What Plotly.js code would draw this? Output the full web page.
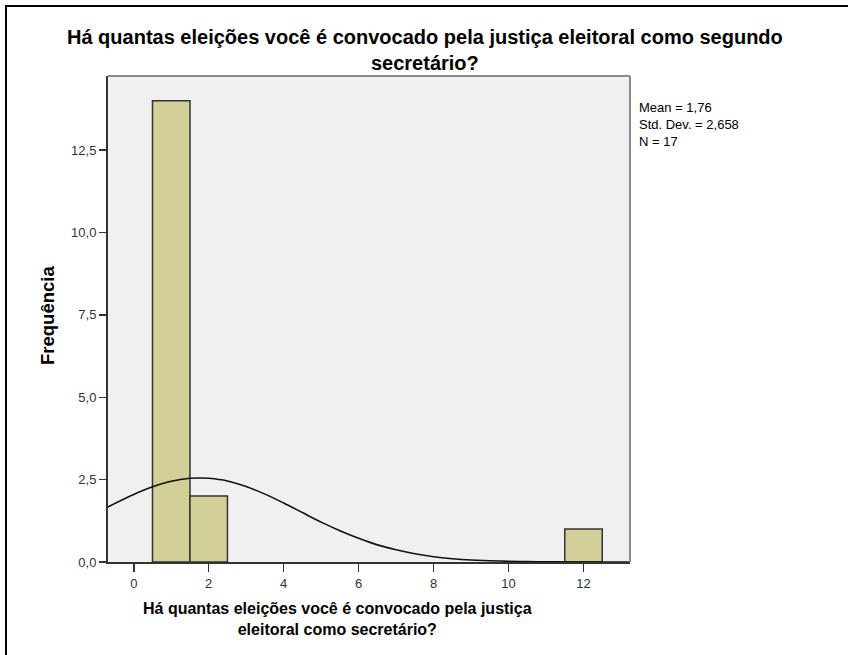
<!DOCTYPE html>
<html>
<head>
<meta charset="utf-8">
<script src="https://cdn.plot.ly/plotly-3.0.1.min.js"></script>
<style>
  html, body { margin: 0; padding: 0; background: #ffffff; }
  #chart { position: absolute; left: 0; top: 0; width: 848px; height: 655px; }
  #frame { position: absolute; left: 5px; top: 5px; width: 860px; height: 700px;
           border-left: 2px solid #000; border-top: 2px solid #000; pointer-events: none; }
</style>
</head>
<body>
<div id="chart"></div>
<div id="frame"></div>
<script>
// Histogram bins (bin centres) and frequencies
const binCenters = [1, 2, 12];
const frequencies = [14, 2, 1];

// Normal curve (x, frequency)
const curveX = [-0.69, -0.5, 0, 0.5, 1, 1.5, 1.76, 2, 2.5, 3, 3.5, 4, 4.5, 5, 5.5, 6, 6.5, 7, 7.5, 8, 8.5, 9, 9.5, 10, 10.5, 11, 11.5, 12, 12.5, 13, 13.24];
const curveY = [1.67, 1.78, 2.05, 2.28, 2.45, 2.54, 2.55, 2.54, 2.46, 2.29, 2.06, 1.79, 1.50, 1.21, 0.95, 0.72, 0.52, 0.37, 0.25, 0.16, 0.10, 0.06, 0.04, 0.02, 0.01, 0.006, 0.003, 0.0015, 0.0007, 0.0003, 0.0002];

const xTicks = [0, 2, 4, 6, 8, 10, 12];
const yTicks = [0, 2.5, 5, 7.5, 10, 12.5];

const titleLines = ['Há quantas eleições você é convocado pela justiça eleitoral como segundo', 'secretário?'];
const xTitleLines = ['Há quantas eleições você é convocado pela justiça', 'eleitoral como secretário?'];
const yTitleText = 'Frequência';
const statsLines = ['Mean = 1,76', 'Std. Dev. = 2,658', 'N = 17'];

const FONT = 'Liberation Sans, Arial, sans-serif';

const traces = [
  {
    type: 'bar',
    x: binCenters,
    y: frequencies,
    width: 1,
    marker: { color: '#d2cf98', line: { color: '#333333', width: 1.5 } },
    hoverinfo: 'x+y'
  },
  {
    type: 'scatter',
    mode: 'lines',
    x: curveX,
    y: curveY,
    line: { color: '#111111', width: 1.6, shape: 'spline' },
    hoverinfo: 'skip'
  }
];

const plotL = 108, plotR = 630, plotT = 76, plotB = 562;
const W = 848, H = 655;
const pw = plotR - plotL, ph = plotB - plotT;
const px = v => (v - plotL) / pw;
const py = v => (plotB - v) / ph;

const annotations = [];
annotations.push({
  text: titleLines.join('<br>'), xref: 'paper', yref: 'paper', x: px(425), y: py(50),
  xanchor: 'center', yanchor: 'middle', showarrow: false, align: 'center',
  font: { family: FONT, size: 20, color: '#000', weight: 'bold' }
});
annotations.push({
  text: xTitleLines.join('<br>'), xref: 'paper', yref: 'paper', x: px(337), y: py(619),
  xanchor: 'center', yanchor: 'middle', showarrow: false, align: 'center',
  font: { family: FONT, size: 16, color: '#000', weight: 'bold' }
});
annotations.push({
  text: yTitleText, xref: 'paper', yref: 'paper', x: px(47), y: py(316),
  xanchor: 'center', yanchor: 'middle', showarrow: false, textangle: -90,
  font: { family: FONT, size: 18.5, color: '#000', weight: 'bold' }
});
annotations.push({
  text: statsLines.join('<br>'), xref: 'paper', yref: 'paper', x: px(637), y: py(124),
  xanchor: 'left', yanchor: 'middle', showarrow: false, align: 'left',
  font: { family: FONT, size: 13, color: '#000' }
});

const layout = {
  width: W, height: H,
  margin: { l: plotL, r: W - plotR, t: plotT, b: H - plotB, pad: 0 },
  paper_bgcolor: '#ffffff',
  plot_bgcolor: '#f0f0f0',
  showlegend: false,
  separators: ',.',
  bargap: 0,
  xaxis: {
    range: [-0.687, 13.24],
    tickvals: xTicks,
    ticktext: xTicks.map(String),
    ticks: 'outside', ticklen: 8, tickwidth: 1.5, tickcolor: '#333',
    showgrid: false, zeroline: false,
    showline: true, linecolor: '#333', linewidth: 2,
    tickfont: { family: FONT, size: 13, color: '#333' },
    fixedrange: true
  },
  yaxis: {
    range: [0, (plotB - plotT) / 32.95],
    tickvals: yTicks,
    tickformat: '.1f',
    ticks: 'outside', ticklen: 7, tickwidth: 1.5, tickcolor: '#333',
    showgrid: false, zeroline: false,
    showline: true, linecolor: '#333', linewidth: 2,
    tickfont: { family: FONT, size: 13, color: '#333' },
    fixedrange: true
  },
  shapes: [
    { type: 'line', xref: 'paper', yref: 'paper', x0: 0, x1: 1, y0: 1, y1: 1,
      line: { color: '#8a8a8a', width: 2 } },
    { type: 'line', xref: 'paper', yref: 'paper', x0: 1, x1: 1, y0: 0, y1: 1,
      line: { color: '#8a8a8a', width: 2 } }
  ],
  annotations: annotations
};

Plotly.newPlot('chart', traces, layout, { displayModeBar: false, staticPlot: true });
</script>
</body>
</html>
